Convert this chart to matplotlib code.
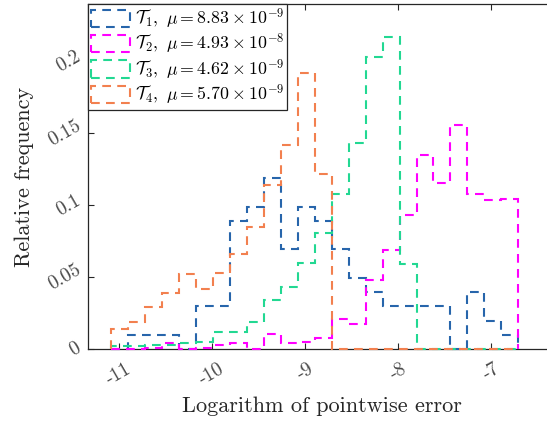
import numpy as np
import matplotlib
matplotlib.use('Agg')
import matplotlib.pyplot as plt

plt.rcParams['font.family'] = 'cmr10'
plt.rcParams['mathtext.fontset'] = 'cm'
plt.rcParams['axes.unicode_minus'] = False

# bins compartidos (24 bins)
primer_borde = -11.085
ancho_bin = 0.1825
n_bins = 24

# frecuencias relativas
t1 = [0, 0.0099, 0.0099, 0.0099, 0, 0.0297, 0.0297, 0.0891, 0.099, 0.1188, 0.0693, 0.099,
      0.0891, 0.0693, 0.0495, 0.0396, 0.0297, 0.0297, 0.0297, 0.0297, 0, 0.0396, 0.0198, 0.0099]
t2 = [0, 0, 0.001, 0.004, 0, 0.001, 0.003, 0.004, 0, 0.0104, 0.004, 0.005,
      0.008, 0.021, 0.0174, 0.048, 0.069, 0.093, 0.1347, 0.1155, 0.156, 0.108, 0.104, 0.104]
t3 = [0.002, 0.002, 0.003, 0.003, 0.004, 0.005, 0.012, 0.012, 0.019, 0.034, 0.043, 0.060,
      0.081, 0.108, 0.143, 0.203, 0.217, 0.059, 0, 0, 0, 0, 0, 0]
t4 = [0.0139, 0.019, 0.029, 0.039, 0.052, 0.042, 0.053, 0.066, 0.085, 0.114, 0.142, 0.192,
      0.1215, 0, 0, 0, 0, 0, 0, 0, 0, 0, 0, 0]

etiquetas = [r'$\mathcal{T}_1,\ \mu = 8.83 \times 10^{-9}$',
             r'$\mathcal{T}_2,\ \mu = 4.93 \times 10^{-8}$',
             r'$\mathcal{T}_3,\ \mu = 4.62 \times 10^{-9}$',
             r'$\mathcal{T}_4,\ \mu = 5.70 \times 10^{-9}$']
colores = ['#2765ab', '#ff00ff', '#22d892', '#f2804f']

xticks = [-11, -10, -9, -8, -7]
xticklabels = ['-11', '-10', '-9', '-8', '-7']
yticks = [0, 0.05, 0.1, 0.15, 0.2]
yticklabels = ['0', '0.05', '0.1', '0.15', '0.2']

bordes = primer_borde + ancho_bin * np.arange(n_bins + 1)
centros = (bordes[:-1] + bordes[1:]) / 2

fig = plt.figure(figsize=(5.47, 4.28), dpi=100)
ax = fig.add_axes([88/547, 79/428, (556-88)/547, 345/428])

for serie, col, lab in zip([t1, t2, t3, t4], colores, etiquetas):
    ax.hist(centros, bins=bordes, weights=serie, histtype='step', color=col,
            linewidth=1.5, linestyle=(0, (4.2, 3.0)), label=lab, zorder=3, clip_on=False)

ax.set_xlim(-11.333, -6.30)
ax.set_ylim(0, 0.24)

ax.set_xticks(xticks)
ax.set_xticklabels(xticklabels, rotation=30, ha='center', va='top')
ax.set_yticks(yticks)
ax.set_yticklabels(yticklabels, rotation=30, ha='right', va='center')
ax.tick_params(direction='in', length=4, width=0.8, colors='#262626', labelcolor='#4a4a4a',
               labelsize=14, top=True)
ax.tick_params(axis='x', pad=8)
ax.tick_params(axis='y', pad=3)
for s in ax.spines.values():
    s.set_color('#262626')
    s.set_linewidth(0.9)

ax.set_xlabel('Logarithm of pointwise error', fontsize=16, color='#262626', labelpad=6)
ax.set_ylabel('Relative frequency', fontsize=16, color='#262626', labelpad=8)

leg = ax.legend(loc='upper left', bbox_to_anchor=(0, 1), borderaxespad=0, fontsize=12.8,
                fancybox=False, framealpha=1, edgecolor='#262626', handlelength=2.2,
                handleheight=1.1, handletextpad=0.3, labelspacing=0.05, borderpad=0.15)
leg.get_frame().set_linewidth(0.9)

plt.savefig('out.png', dpi=100)
